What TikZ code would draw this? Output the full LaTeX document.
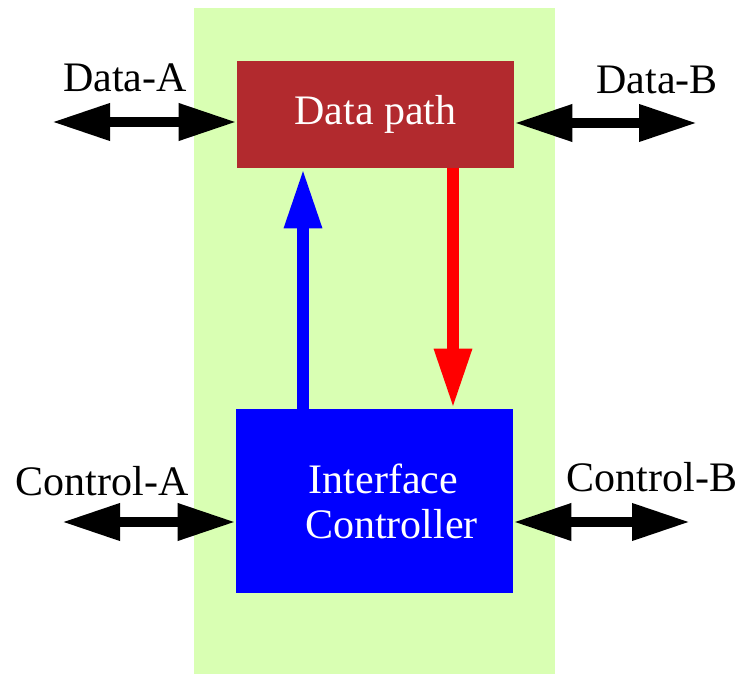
\documentclass[tikz,border=0pt]{standalone}
\usepackage{fontspec}
\setmainfont{Liberation Serif}
\usetikzlibrary{arrows.meta}
\definecolor{panelgreen}{RGB}{217,255,179}
\definecolor{pathred}{RGB}{178,42,46}
\begin{document}
\begin{tikzpicture}[x=0.5pt,y=-0.5pt,
   blockbox/.style={minimum width=138.5pt, inner sep=0pt, text=white, align=center,
      font=\fontsize{21}{22.5}\selectfont},
   busarrow/.style={line width=5pt,
      {Triangle[width=17.5pt,length=29pt]}-{Triangle[width=17.5pt,length=29pt]}},
   flowarrow/.style={line width=6pt, -{Triangle[width=17.5pt,length=30pt]}},
   lbl/.style={font=\fontsize{21}{24}\selectfont}]

   \useasboundingbox (0,0) rectangle (743,674);
   \fill[panelgreen] (194,8) rectangle (555,674);

   \node[blockbox, fill=pathred, minimum height=53.5pt] (dp) at (375.5,114.5) {Data path};
   \node[blockbox, fill=blue, minimum height=92pt] (ic) at (374.5,501)
      {\hspace*{9pt}Interface\\\hspace*{17pt}Controller};

   \coordinate (da) at (52,122);
   \coordinate (db) at (697,123);
   \coordinate (ca) at (62,522);
   \coordinate (cb) at (690,522);
   \coordinate (upx) at (303,0);
   \coordinate (downx) at (453,0);

   \draw[busarrow] (da) -- (da -| dp.west);
   \draw[busarrow] (db -| dp.east) -- (db);
   \draw[busarrow] (ca) -- (ca -| ic.west);
   \draw[busarrow] (cb -| ic.east) -- (cb);

   \draw[flowarrow, blue] (ic.north -| upx) -- (dp.south -| upx);
   \draw[flowarrow, red] (dp.south -| downx) -- (ic.north -| downx);

   \node[lbl] (dalbl) at (125,78) {Data-A};
   \node[lbl] (dblbl) at (657,80) {Data-B};
   \node[lbl] (calbl) at (102,481) {Control-A};
   \node[lbl] (cblbl) at (652,477) {Control-B};

\end{tikzpicture}
\end{document}
